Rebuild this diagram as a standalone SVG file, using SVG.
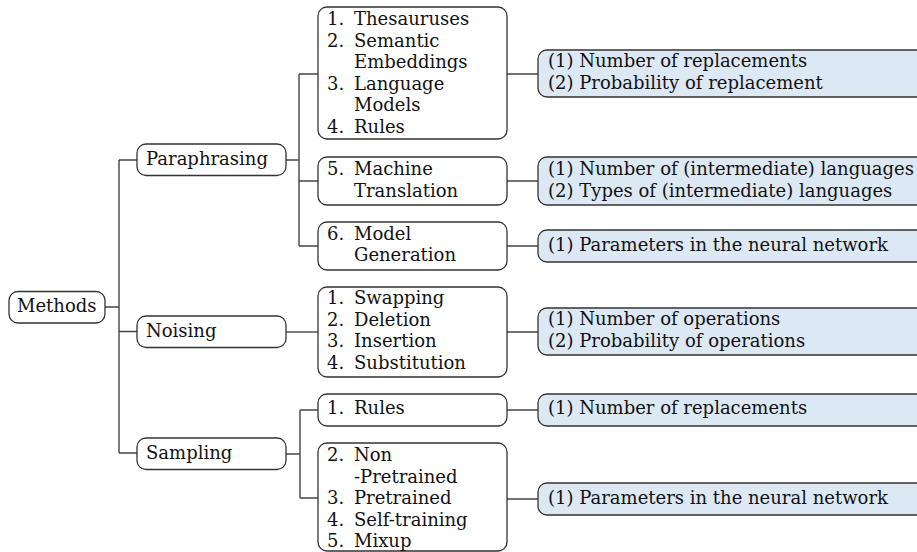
<svg xmlns="http://www.w3.org/2000/svg" width="917" height="552" viewBox="0 0 917 552">
<style>
text{font-family:"DejaVu Serif","Liberation Serif",serif;font-size:18px;fill:#111}
.box{fill:#fff;stroke:#333;stroke-width:1.3}
.attr{fill:#dde8f5;stroke:#333;stroke-width:1.3}
.con{fill:none;stroke:#444;stroke-width:1.4}
</style>
<rect width="917" height="552" fill="#fff"/>
<g id="connectors">
<path class="con" d="M105,307H119M119,160V453M119,160H137M119,331.5H137M119,453H137"/>
<path class="con" d="M286,160H299M299,74V246M299,74H318M299,181H318M299,246H318"/>
<path class="con" d="M286,332H318"/>
<path class="con" d="M286,454H300M300,410V498M300,410H318M300,498H318"/>
<path class="con" d="M507,74H538M507,181H538M507,246H538M507,332H538M507,410H538M507,499H538"/>
</g>
<g id="methods"><rect class="box" x="9" y="291.5" width="96" height="31.5" rx="9"/><text x="17" y="312">Methods</text></g>
<g id="paraphrasing"><rect class="box" x="137" y="144" width="149" height="31.5" rx="9"/><text x="146" y="165">Paraphrasing</text></g>
<g id="noising"><rect class="box" x="137" y="316" width="149" height="31.5" rx="9"/><text x="146" y="337">Noising</text></g>
<g id="sampling"><rect class="box" x="137" y="438" width="149" height="31.5" rx="9"/><text x="146" y="459">Sampling</text></g>
<g id="para-list1"><rect class="box" x="318" y="7" width="189" height="132" rx="9"/>
<text x="327" y="25">1.</text><text x="354" y="25">Thesauruses</text>
<text x="327" y="46.5">2.</text><text x="354" y="46.5">Semantic</text>
<text x="354" y="68">Embeddings</text>
<text x="327" y="89.5">3.</text><text x="354" y="89.5">Language</text>
<text x="354" y="111">Models</text>
<text x="327" y="132.5">4.</text><text x="354" y="132.5">Rules</text></g>
<g id="para-list2"><rect class="box" x="318" y="157" width="189" height="48" rx="9"/>
<text x="327" y="175">5.</text><text x="354" y="175">Machine</text>
<text x="354" y="196.5">Translation</text></g>
<g id="para-list3"><rect class="box" x="318" y="222" width="189" height="48" rx="9"/>
<text x="327" y="240">6.</text><text x="354" y="240">Model</text>
<text x="354" y="261">Generation</text></g>
<g id="noise-list"><rect class="box" x="318" y="287" width="189" height="90" rx="9"/>
<text x="327" y="304">1.</text><text x="354" y="304">Swapping</text>
<text x="327" y="325.5">2.</text><text x="354" y="325.5">Deletion</text>
<text x="327" y="347">3.</text><text x="354" y="347">Insertion</text>
<text x="327" y="368.5">4.</text><text x="354" y="368.5">Substitution</text></g>
<g id="samp-list1"><rect class="box" x="318" y="394" width="189" height="32" rx="9"/>
<text x="327" y="414">1.</text><text x="354" y="414">Rules</text></g>
<g id="samp-list2"><rect class="box" x="318" y="443" width="189" height="108" rx="9"/>
<text x="327" y="461">2.</text><text x="354" y="461">Non</text>
<text x="354" y="482.5">-Pretrained</text>
<text x="327" y="504">3.</text><text x="354" y="504">Pretrained</text>
<text x="327" y="525.5">4.</text><text x="354" y="525.5">Self-training</text>
<text x="327" y="547">5.</text><text x="354" y="547">Mixup</text></g>
<g id="attr1"><rect class="attr" x="538" y="50" width="400" height="47" rx="9"/>
<text x="548" y="67">(1) Number of replacements</text><text x="548" y="89">(2) Probability of replacement</text></g>
<g id="attr2"><rect class="attr" x="538" y="157" width="400" height="48" rx="9"/>
<text x="548" y="175">(1) Number of (intermediate) languages</text><text x="548" y="196.5">(2) Types of (intermediate) languages</text></g>
<g id="attr3"><rect class="attr" x="538" y="230" width="400" height="32" rx="9"/>
<text x="548" y="251">(1) Parameters in the neural network</text></g>
<g id="attr4"><rect class="attr" x="538" y="308" width="400" height="47" rx="9"/>
<text x="548" y="325">(1) Number of operations</text><text x="548" y="347">(2) Probability of operations</text></g>
<g id="attr5"><rect class="attr" x="538" y="394" width="400" height="32" rx="9"/>
<text x="548" y="414">(1) Number of replacements</text></g>
<g id="attr6"><rect class="attr" x="538" y="483" width="400" height="32" rx="9"/>
<text x="548" y="504">(1) Parameters in the neural network</text></g>
</svg>
